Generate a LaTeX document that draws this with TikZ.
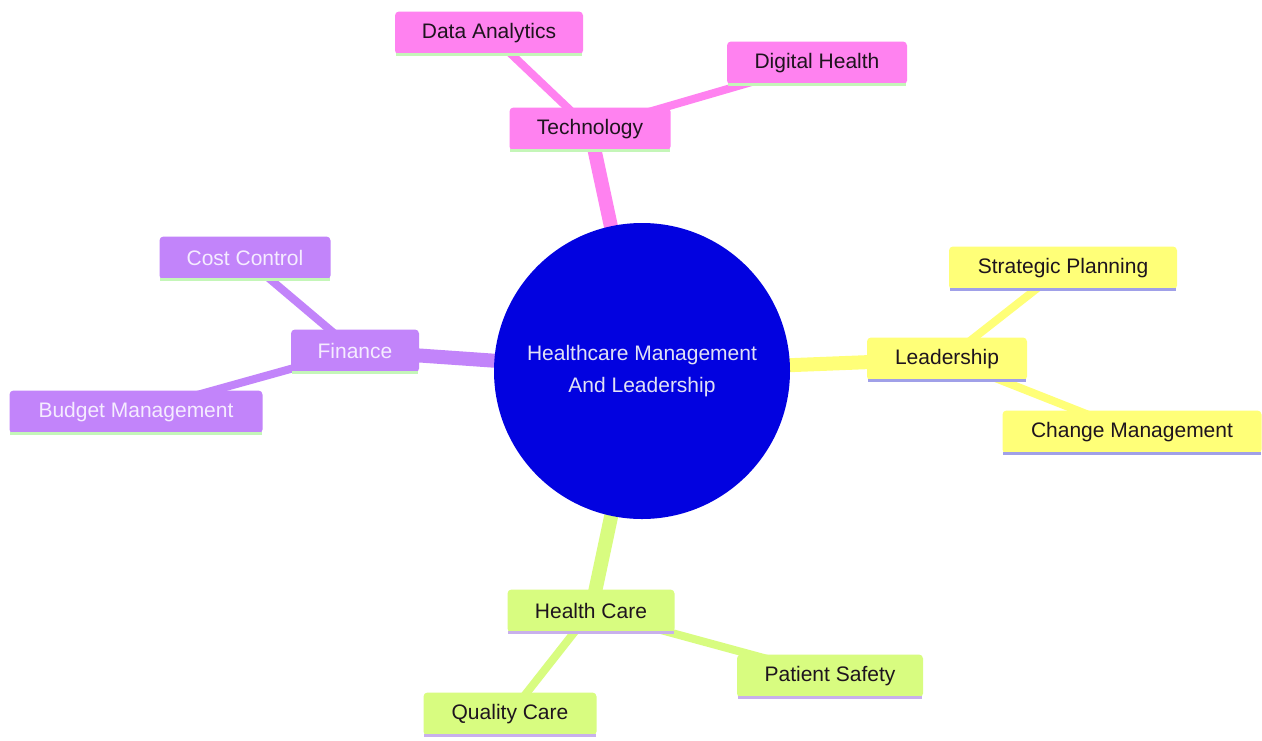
\documentclass[tikz,border=0pt]{standalone}
\usepackage{fontspec}
\setmainfont{Liberation Sans}
\definecolor{pinkc}{RGB}{255,130,240}
\definecolor{purc}{RGB}{194,132,250}
\definecolor{yelc}{RGB}{255,255,120}
\definecolor{grnc}{RGB}{216,252,128}
\definecolor{bluec}{RGB}{2,2,224}
\definecolor{ulgreen}{RGB}{196,246,184}
\definecolor{ulblue}{RGB}{160,160,232}
\definecolor{ullav}{RGB}{200,176,236}
\definecolor{txtdark}{RGB}{30,20,30}
\definecolor{txtlight}{RGB}{245,236,255}
\definecolor{ctrtxt}{RGB}{225,225,245}
\tikzset{
  mnode/.style={rectangle, rounded corners=4pt, minimum height=43pt, inner sep=0pt, font=\fontsize{21}{25}\selectfont, text=txtdark},
  pinkbox/.style={mnode, fill=pinkc},
  purbox/.style={mnode, fill=purc, text=txtlight},
  yelbox/.style={mnode, fill=yelc},
  grnbox/.style={mnode, fill=grnc},
  mainedge/.style={line width=14pt},
  subedge/.style={line width=8pt},
  uline/.style={line width=3pt},
}
\newcommand{\ul}[2]{\draw[uline,#2] ([xshift=1pt]#1.south west) -- ([xshift=-1pt]#1.south east);}
\begin{document}
\begin{tikzpicture}[x=1pt,y=-1pt]
\useasboundingbox (0,0) rectangle (1262,740);
\fill[white] (0,0) rectangle (1262,740);
% coordinates of node centres
\coordinate (cC) at (642,371);
\coordinate (cTech) at (590,129);
\coordinate (cDA) at (489,33);
\coordinate (cDH) at (817,63);
\coordinate (cFin) at (355,351);
\coordinate (cCost) at (245,258);
\coordinate (cBud) at (136,412);
\coordinate (cLead) at (947,359);
\coordinate (cSP) at (1063,268);
\coordinate (cCM) at (1132,432);
\coordinate (cHC) at (591,611);
\coordinate (cPS) at (830,676);
\coordinate (cQC) at (510,714);
% edges
\draw[mainedge,pinkc] (cC) -- (cTech);
\draw[mainedge,purc] (cC) -- (cFin);
\draw[mainedge,yelc] (cC) -- (cLead);
\draw[mainedge,grnc] (cC) -- (cHC);
\draw[subedge,pinkc] (cTech) -- (cDA);
\draw[subedge,pinkc] (cTech) -- (cDH);
\draw[subedge,purc] (cFin) -- (cCost);
\draw[subedge,purc] (cFin) -- (cBud);
\draw[subedge,yelc] (cLead) -- (cSP);
\draw[subedge,yelc] (cLead) -- (cCM);
\draw[subedge,grnc] (cHC) -- (cPS);
\draw[subedge,grnc] (cHC) -- (cQC);
% centre
\node[circle, fill=bluec, minimum size=296pt, inner sep=0pt, align=center, text=ctrtxt, font=\fontsize{21}{32}\selectfont] (center) at (cC) {Healthcare Management\\And Leadership};
% nodes
\node[pinkbox, minimum width=161pt] (tech) at (cTech) {Technology};
\node[pinkbox, minimum width=188pt] (da) at (cDA) {Data Analytics};
\node[pinkbox, minimum width=180pt] (dh) at (cDH) {Digital Health};
\node[purbox, minimum width=128pt] (fin) at (cFin) {Finance};
\node[purbox, minimum width=171pt] (cost) at (cCost) {Cost Control};
\node[purbox, minimum width=253pt] (bud) at (cBud) {Budget Management};
\node[yelbox, minimum width=160pt] (lead) at (cLead) {Leadership};
\node[yelbox, minimum width=228pt] (sp) at (cSP) {Strategic Planning};
\node[yelbox, minimum width=259pt] (cm) at (cCM) {Change Management};
\node[grnbox, minimum width=167pt] (hc) at (cHC) {Health Care};
\node[grnbox, minimum width=186pt] (ps) at (cPS) {Patient Safety};
\node[grnbox, minimum width=173pt] (qc) at (cQC) {Quality Care};
% underlines
\ul{tech}{ulgreen}\ul{da}{ulgreen}\ul{dh}{ulgreen}
\ul{fin}{ulgreen}\ul{cost}{ulgreen}\ul{bud}{ulgreen}
\ul{lead}{ulblue}\ul{sp}{ulblue}\ul{cm}{ulblue}
\ul{hc}{ullav}\ul{ps}{ullav}\ul{qc}{ullav}
\end{tikzpicture}
\end{document}
